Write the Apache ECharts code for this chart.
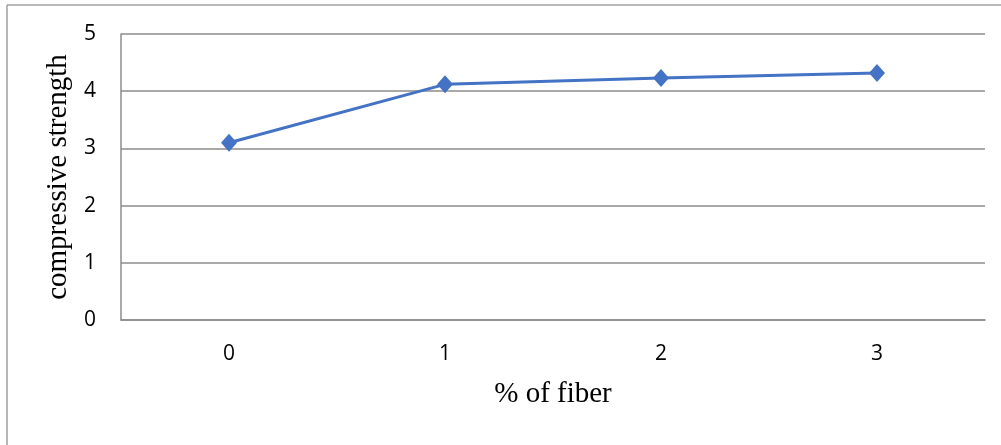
<!DOCTYPE html>
<html>
<head>
<meta charset="utf-8">
<script src="https://cdn.jsdelivr.net/npm/echarts@6/dist/echarts.min.js"></script>
<style>
  html, body { margin: 0; padding: 0; background: #fff; }
  #chart { width: 1001px; height: 445px; }
</style>
</head>
<body>
<div id="chart"></div>
<script>
// Fiber content (%) and the measured compressive strength
const fiberPercent = ['0', '1', '2', '3'];
const strength = [3.1, 4.12, 4.23, 4.32];
const yTicks = { min: 0, max: 5, interval: 1 };

const chart = echarts.init(document.getElementById('chart'));
const gridColor = '#8c8c8c';

chart.setOption({
  animation: false,
  backgroundColor: '#ffffff',
  graphic: [
    { type: 'line', shape: { x1: 7, y1: 5, x2: 1001, y2: 5 }, style: { stroke: '#a0a0a0', lineWidth: 1.5 } },
    { type: 'line', shape: { x1: 7, y1: 5, x2: 7, y2: 445 }, style: { stroke: '#a0a0a0', lineWidth: 1.5 } }
  ],
  grid: { left: 121, right: 16, top: 34, bottom: 125 },
  xAxis: {
    type: 'category',
    data: fiberPercent,
    boundaryGap: true,
    name: '% of fiber',
    nameLocation: 'middle',
    nameGap: 60,
    nameTextStyle: { fontFamily: 'Liberation Serif', fontSize: 29, color: '#000' },
    axisLine: { lineStyle: { color: gridColor, width: 1.5 } },
    axisTick: { show: false },
    axisLabel: { margin: 24, fontFamily: 'Open Sans', fontSize: 21, color: '#000' }
  },
  yAxis: {
    type: 'value',
    min: yTicks.min,
    max: yTicks.max,
    interval: yTicks.interval,
    name: 'compressive strength',
    nameLocation: 'middle',
    nameGap: 45,
    nameTextStyle: { fontFamily: 'Liberation Serif', fontSize: 29, color: '#000' },
    axisLine: { show: true, lineStyle: { color: gridColor, width: 1.5 } },
    axisTick: { show: false },
    axisLabel: { margin: 25, fontFamily: 'Open Sans', fontSize: 21, color: '#000' },
    splitLine: { lineStyle: { color: gridColor, width: 1.5 } }
  },
  series: [{
    type: 'line',
    data: strength,
    symbol: 'diamond',
    symbolSize: [16, 18],
    itemStyle: { color: '#4472C4' },
    lineStyle: { color: '#4472C4', width: 3 }
  }]
});
</script>
</body>
</html>
